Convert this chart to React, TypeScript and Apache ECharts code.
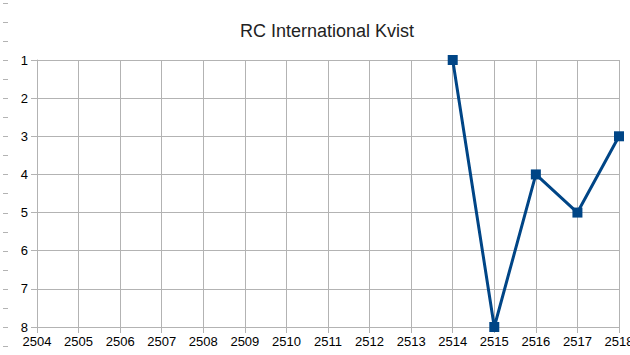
import React, { useEffect, useRef } from "react";
import * as echarts from "echarts";

const title = "RC International Kvist";
const categories = ["2504", "2505", "2506", "2507", "2508", "2509", "2510", "2511", "2512", "2513", "2514", "2515", "2516", "2517", "2518"];
const ranks: (number | null)[] = [null, null, null, null, null, null, null, null, null, null, 1, 8, 4, 5, 3];
const yMin = 1;
const yMax = 8;

export default function App() {
  const ref = useRef<HTMLDivElement>(null);
  useEffect(() => {
    if (!ref.current) return;
    const chart = echarts.init(ref.current, undefined, { renderer: "svg" });
    const dashes: any[] = [];
    for (let k = -3; k <= 15; k++) {
      const y = Math.round(60 + 19.07 * k) + 0.5;
      dashes.push({ type: "line", shape: { x1: 3, y1: y, x2: 8, y2: y }, style: { stroke: "#b3b3b3", lineWidth: 1 } });
    }
    chart.setOption({
      animation: false,
      backgroundColor: "#ffffff",
      textStyle: { fontFamily: "Liberation Sans" },
      title: {
        text: title,
        left: 235,
        top: 17,
        textStyle: { fontFamily: "Liberation Sans", fontSize: 18, fontWeight: "normal", color: "#222" },
      },
      graphic: dashes,
      grid: { left: 37, right: 11, top: 60, bottom: 28, containLabel: false, outerBoundsMode: "none" },
      xAxis: {
        type: "category",
        data: categories,
        boundaryGap: false,
        axisLine: { show: true, lineStyle: { color: "#b3b3b3", width: 1 } },
        axisTick: { show: true, length: 6, lineStyle: { color: "#b3b3b3" } },
        axisLabel: { color: "#000", fontSize: 13, margin: 8, fontFamily: "Liberation Sans", interval: 0 },
        splitLine: { show: true, lineStyle: { color: "#b3b3b3", width: 1 } },
      },
      yAxis: {
        type: "value",
        inverse: true,
        min: yMin,
        max: yMax,
        interval: 1,
        axisLine: { show: true, lineStyle: { color: "#b3b3b3", width: 1 } },
        axisTick: { show: true, length: 6, lineStyle: { color: "#b3b3b3" } },
        axisLabel: { color: "#000", fontSize: 13, margin: 9, fontFamily: "Liberation Sans" },
        splitLine: { show: true, lineStyle: { color: "#b3b3b3", width: 1 } },
      },
      series: [
        {
          type: "line",
          data: ranks,
          connectNulls: false,
          symbol: "rect",
          symbolSize: 10,
          lineStyle: { color: "#004586", width: 3 },
          itemStyle: { color: "#004586" },
        },
      ],
    });
    return () => chart.dispose();
  }, []);
  return <div ref={ref} style={{ position: "fixed", left: 0, top: 0, width: 630, height: 355 }} />;
}
